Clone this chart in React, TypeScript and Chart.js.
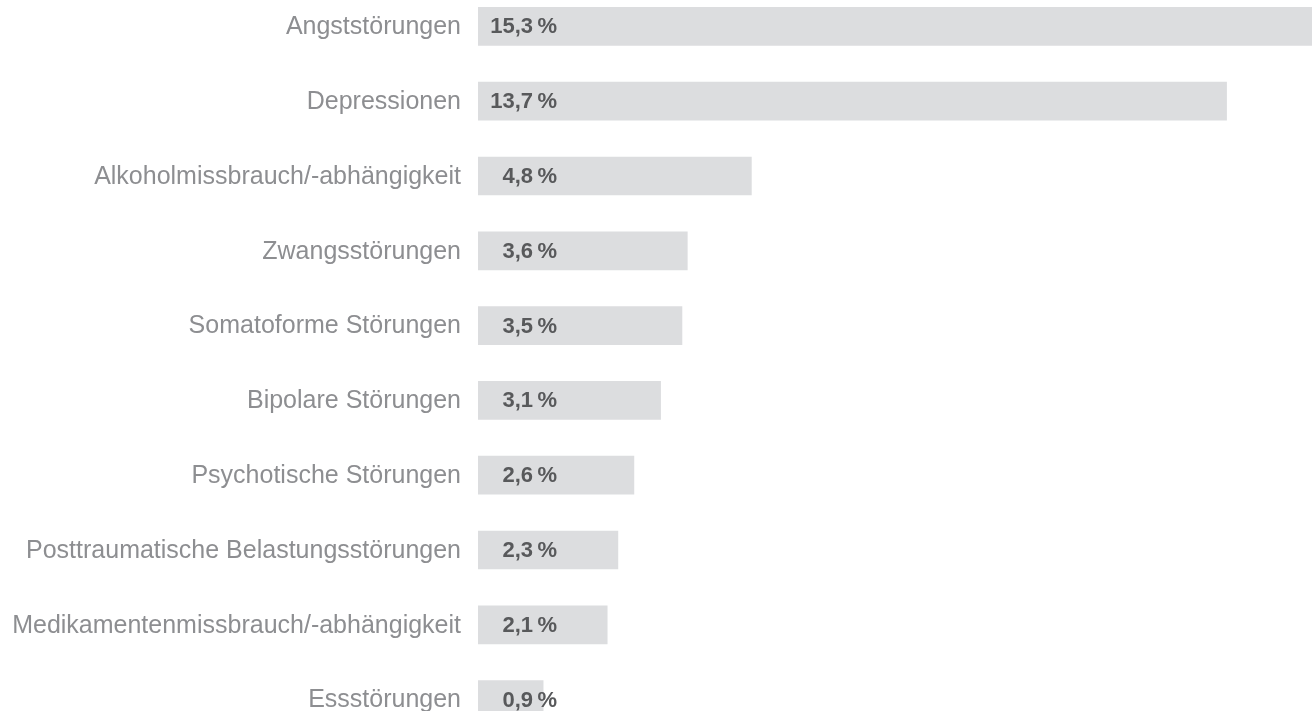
import React, { useEffect, useRef } from "react";
import { Chart, registerables } from "chart.js";

Chart.register(...registerables);

const categories: string[] = [
  "Angststörungen",
  "Depressionen",
  "Alkoholmissbrauch/-abhängigkeit",
  "Zwangsstörungen",
  "Somatoforme Störungen",
  "Bipolare Störungen",
  "Psychotische Störungen",
  "Posttraumatische Belastungsstörungen",
  "Medikamentenmissbrauch/-abhängigkeit",
  "Essstörungen",
];

const values: number[] = [15.3, 13.7, 4.8, 3.6, 3.5, 3.1, 2.6, 2.3, 2.1, 0.9];

const AXIS_MIN = -0.32;
const AXIS_MAX = 15.3;

const valueLabels = {
  id: "valueLabels",
  afterDatasetsDraw(chart: any) {
    const { ctx, chartArea } = chart;
    const meta = chart.getDatasetMeta(0);
    ctx.save();
    ctx.font = "bold 22px 'Liberation Sans', Arial, sans-serif";
    ctx.fillStyle = "#58595b";
    ctx.textAlign = "right";
    ctx.textBaseline = "middle";
    meta.data.forEach((bar: any, i: number) => {
      const txt = values[i].toFixed(1).replace(".", ",") + "\u2009%";
      ctx.fillText(txt, chartArea.left + 79, bar.y + 1);
    });
    ctx.restore();
  },
};

export default function App() {
  const ref = useRef<HTMLCanvasElement | null>(null);

  useEffect(() => {
    if (!ref.current) return;
    const chart = new Chart(ref.current, {
      type: "bar",
      data: {
        labels: categories,
        datasets: [
          {
            data: values,
            backgroundColor: "#dcdddf",
            borderWidth: 0,
            barThickness: 38,
            base: AXIS_MIN,
          } as any,
        ],
      },
      options: {
        indexAxis: "y",
        animation: false,
        responsive: false,
        maintainAspectRatio: false,
        layout: { padding: 0, autoPadding: false },
        plugins: {
          legend: { display: false },
          tooltip: { enabled: false },
        },
        scales: {
          x: {
            display: false,
            min: AXIS_MIN,
            max: AXIS_MAX,
          },
          y: {
            grid: { display: false, drawTicks: false },
            border: { display: false },
            ticks: {
              padding: 17,
              labelOffset: 1,
              color: "#8d8e91",
              font: { family: "'Liberation Sans', Arial, sans-serif", size: 25 },
            },
            afterFit: (scale: any) => {
              scale.width = 478;
              scale.paddingTop = 0;
              scale.paddingBottom = 0;
            },
          },
        },
      } as any,
      plugins: [valueLabels],
    });
    return () => chart.destroy();
  }, []);

  return (
    <div style={{ position: "fixed", left: 0, top: -11, width: 1312, height: 748 }}>
      <canvas ref={ref} width={1312} height={748} style={{ width: 1312, height: 748 }} />
    </div>
  );
}
